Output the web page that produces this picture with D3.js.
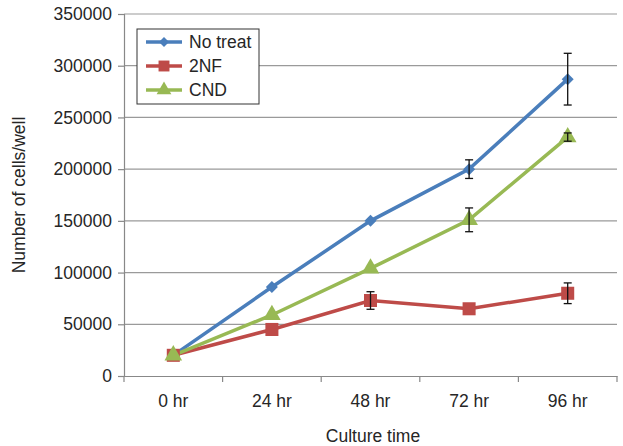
<!DOCTYPE html>
<html>
<head>
<meta charset="utf-8">
<script src="https://cdn.jsdelivr.net/npm/d3@7"></script>
<style>
  body { margin: 0; background: #fff; }
  text { font-family: "Liberation Sans", Arial, sans-serif; fill: #262626; }
</style>
</head>
<body>
<div id="chart"></div>
<script>
// data
const categories = ["0 hr", "24 hr", "48 hr", "72 hr", "96 hr"]
const seriesNames = ["No treat", "2NF", "CND"]
const noTreat = [20000, 86000, 150000, 200000, 287000]
const noTreatErr = [0, 0, 0, 9000, 25000]
const twoNF = [20000, 45000, 73000, 65000, 80000]
const twoNFErr = [0, 0, 8500, 0, 10000]
const cnd = [20000, 59000, 104000, 151000, 231000]
const cndErr = [0, 0, 0, 11500, 4000]
const yTicks = [0, 50000, 100000, 150000, 200000, 250000, 300000, 350000]

const colors = ["#4A7EBB", "#BE4B48", "#98B954"]
const allSeries = [
  {name: seriesNames[0], values: noTreat, err: noTreatErr, shape: "diamond"},
  {name: seriesNames[1], values: twoNF, err: twoNFErr, shape: "square"},
  {name: seriesNames[2], values: cnd, err: cndErr, shape: "triangle"}
]

const fontSize = "17.5px"
const W = 623, H = 446
const margin = {top: 14, right: 6, bottom: 70, left: 124}
const width = W - margin.left - margin.right,
    height = H - margin.top - margin.bottom

const svg = d3.select("#chart").append("svg")
    .attr("width", W)
    .attr("height", H)
  .append("g")
    .attr("transform", `translate(${margin.left}, ${margin.top})`)

const x = d3.scaleBand().domain(categories).range([0, width])
const y = d3.scaleLinear().domain([0, 350000]).range([height, 0])

// grid
svg.selectAll(".grid")
  .data(yTicks.slice(1))
  .join("line")
    .attr("x1", 0).attr("x2", width)
    .attr("y1", d => y(d)).attr("y2", d => y(d))
    .attr("stroke", "#9a9a9a").attr("stroke-width", 1.2)

// Y axis
const yAxis = svg.append("g")
  .call(d3.axisLeft(y).tickValues(yTicks).tickSize(6).tickPadding(6).tickFormat(d3.format("d")))
yAxis.select(".domain").attr("stroke", "#888").attr("stroke-width", 1.2)
yAxis.selectAll(".tick line").attr("stroke", "#888").attr("stroke-width", 1.2)
yAxis.selectAll("text").style("font-size", fontSize)

// X axis
const xAxis = svg.append("g")
  .attr("transform", `translate(0, ${height})`)
  .call(d3.axisBottom(x).tickSize(0).tickPadding(19))
xAxis.select(".domain").attr("stroke", "#888").attr("stroke-width", 1.2)
xAxis.selectAll("text").style("font-size", fontSize)
// boundary ticks between categories
svg.append("g").selectAll("line")
  .data(d3.range(categories.length + 1))
  .join("line")
    .attr("x1", i => i * x.bandwidth()).attr("x2", i => i * x.bandwidth())
    .attr("y1", height).attr("y2", height + 6)
    .attr("stroke", "#888").attr("stroke-width", 1.2)

// axis titles
svg.append("text")
  .attr("x", 373 - margin.left)
  .attr("y", height + 66)
  .attr("text-anchor", "middle")
  .style("font-size", fontSize)
  .text("Culture time")
svg.append("text")
  .attr("transform", `translate(${25 - margin.left}, ${195 - margin.top}) rotate(-90)`)
  .attr("text-anchor", "middle")
  .style("font-size", fontSize)
  .text("Number of cells/well")

const cx = c => x(c) + x.bandwidth() / 2

// Excel style markers; diamond is a square turned 45deg
function marker(g, shape, color, k) {
  if (shape === "diamond") {
    g.append("path").attr("d", d3.symbol(d3.symbolSquare, 72 * k)())
      .attr("transform", "rotate(45)").attr("fill", color)
  } else if (shape === "square") {
    g.append("path").attr("d", d3.symbol(d3.symbolSquare, 170 * k)()).attr("fill", color)
  } else {
    g.append("path").attr("d", d3.symbol(d3.symbolTriangle, 135 * k)()).attr("fill", color)
  }
}

const line = d3.line()
  .x((d, i) => cx(categories[i]))
  .y(d => y(d))

allSeries.forEach((s, si) => {
  svg.append("path")
    .datum(s.values)
    .attr("fill", "none")
    .attr("stroke", colors[si])
    .attr("stroke-width", 3.5)
    .attr("d", line)
})

allSeries.forEach((s, si) => {
  s.values.forEach((v, i) => {
    const g = svg.append("g").attr("transform", `translate(${cx(categories[i])}, ${y(v)})`)
    marker(g, s.shape, colors[si], 1)
  })
})
allSeries.forEach(s => {
  s.values.forEach((v, i) => {
    const e = s.err[i]
    if (!e) return
    const px = cx(categories[i])
    const g = svg.append("g").attr("stroke", "#111").attr("stroke-width", 1.3)
    g.append("line").attr("x1", px).attr("x2", px).attr("y1", y(v + e)).attr("y2", y(v - e))
    g.append("line").attr("x1", px - 4).attr("x2", px + 4).attr("y1", y(v + e)).attr("y2", y(v + e))
    g.append("line").attr("x1", px - 4).attr("x2", px + 4).attr("y1", y(v - e)).attr("y2", y(v - e))
  })
})

// legend
const legend = svg.append("g").attr("transform", `translate(${137 - margin.left}, ${29 - margin.top})`)
legend.append("rect")
  .attr("width", 122).attr("height", 75)
  .attr("fill", "#fff").attr("stroke", "#333").attr("stroke-width", 1)
allSeries.forEach((s, si) => {
  const row = legend.append("g").attr("transform", `translate(0, ${13 + si * 24})`)
  row.append("line").attr("x1", 9).attr("x2", 45).attr("stroke", colors[si]).attr("stroke-width", 3.5)
  const m = row.append("g").attr("transform", "translate(27, 0)")
  marker(m, s.shape, colors[si], 0.7)
  row.append("text").attr("x", 52).attr("dy", "0.35em").style("font-size", fontSize).text(s.name)
})
</script>
</body>
</html>
